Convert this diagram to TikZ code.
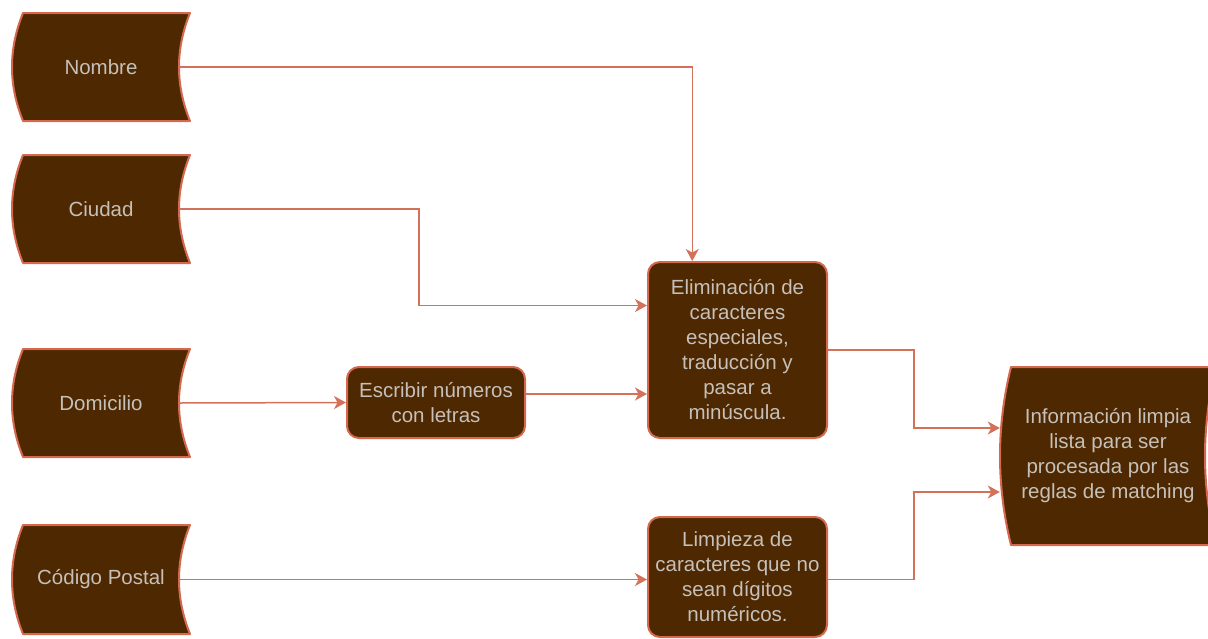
\documentclass[tikz,border=0pt]{standalone}
\usepackage{fontspec}
\setmainfont{Liberation Sans}
\usetikzlibrary{arrows.meta,calc}
\definecolor{boxfill}{HTML}{4D2800}
\definecolor{boxline}{HTML}{D4694F}
\definecolor{edgec}{HTML}{D4715A}
\definecolor{txtc}{HTML}{C6C0BA}
\tikzset{
  dsfill/.style={fill=boxfill, draw=boxline, line width=2pt, line join=round},
  dstext/.style={inner sep=0pt, text=txtc, align=center,
    font=\fontsize{20.5}{25}\selectfont},
  procbox/.style={draw=boxline, fill=boxfill, line width=2pt, rounded corners=12pt,
    text=txtc, align=center, inner sep=0pt, font=\fontsize{20.5}{25}\selectfont},
  conn/.style={draw=edgec, line width=1.5pt,
    -{Stealth[length=12pt,width=13pt,inset=3.5pt]}}
}
% data storage shape: quadratic curves, depth 11
\newcommand\dstore[6]{%
  \path[dsfill] ({#2+11},{-#3}) -- (#4,{-#3})
    .. controls ({#4-44/3},{-#3-(#5-#3)/3}) and ({#4-44/3},{-#5+(#5-#3)/3}) .. (#4,{-#5})
    -- ({#2+11},{-#5})
    .. controls ({#2-11/3},{-#5+(#5-#3)/3}) and ({#2-11/3},{-#3-(#5-#3)/3}) .. ({#2+11},{-#3}) -- cycle;
  \node[dstext, minimum width={#4-#2}, minimum height={#5-#3}] (#1) at ({(#2+#4)/2},{-(#3+#5)/2}) {#6};
}
\begin{document}
\begin{tikzpicture}[x=1pt,y=1pt]
\useasboundingbox (0,0) rectangle (1208,-638);
\clip (0,0) rectangle (1208,-638);
% data stores
\dstore{nombre}{12}{13}{190}{121}{Nombre}
\dstore{ciudad}{12}{155}{190}{263}{Ciudad}
\dstore{domicilio}{12}{349}{190}{457}{Domicilio}
\dstore{codigo}{12}{525}{190}{634}{Código Postal}
\dstore{info}{1000}{367}{1216}{545}{Información limpia\\lista para ser\\procesada por las\\reglas de matching}
% process boxes
\node[procbox, minimum width=179pt, minimum height=176pt] (elim) at (737.5,-350)
  {Eliminación de\\caracteres\\especiales,\\traducción y\\pasar a\\minúscula.};
\node[procbox, minimum width=178pt, minimum height=71pt] (escribir) at (436,-402.5)
  {Escribir números\\con letras};
\node[procbox, minimum width=179pt, minimum height=120pt] (limp) at (737.5,-577)
  {Limpieza de\\caracteres que no\\sean dígitos\\numéricos.};
% connectors
\draw[conn] ([xshift=-11pt]nombre.east) -| ($(elim.north west)!0.25!(elim.north east)$);
\draw[conn] ([xshift=-11pt]ciudad.east) -- ++(240,0) |- ($(elim.north west)!0.25!(elim.south west)$);
\draw[conn] ([xshift=-11pt]domicilio.east) -- (escribir.west);
\draw[conn] ([yshift=8.5pt]escribir.east) -- ([yshift=8.5pt]escribir.east -| elim.west);
\draw[conn] (elim.east) -- ++(86,0) |- ([yshift=28pt]info.west);
\draw[conn] ([xshift=-11pt]codigo.east) -- (codigo.east -| limp.west);
\draw[conn] ([yshift=-2.5pt]limp.east) -- ++(86,0) |- ([yshift=-36pt]info.west);
\end{tikzpicture}
\end{document}
